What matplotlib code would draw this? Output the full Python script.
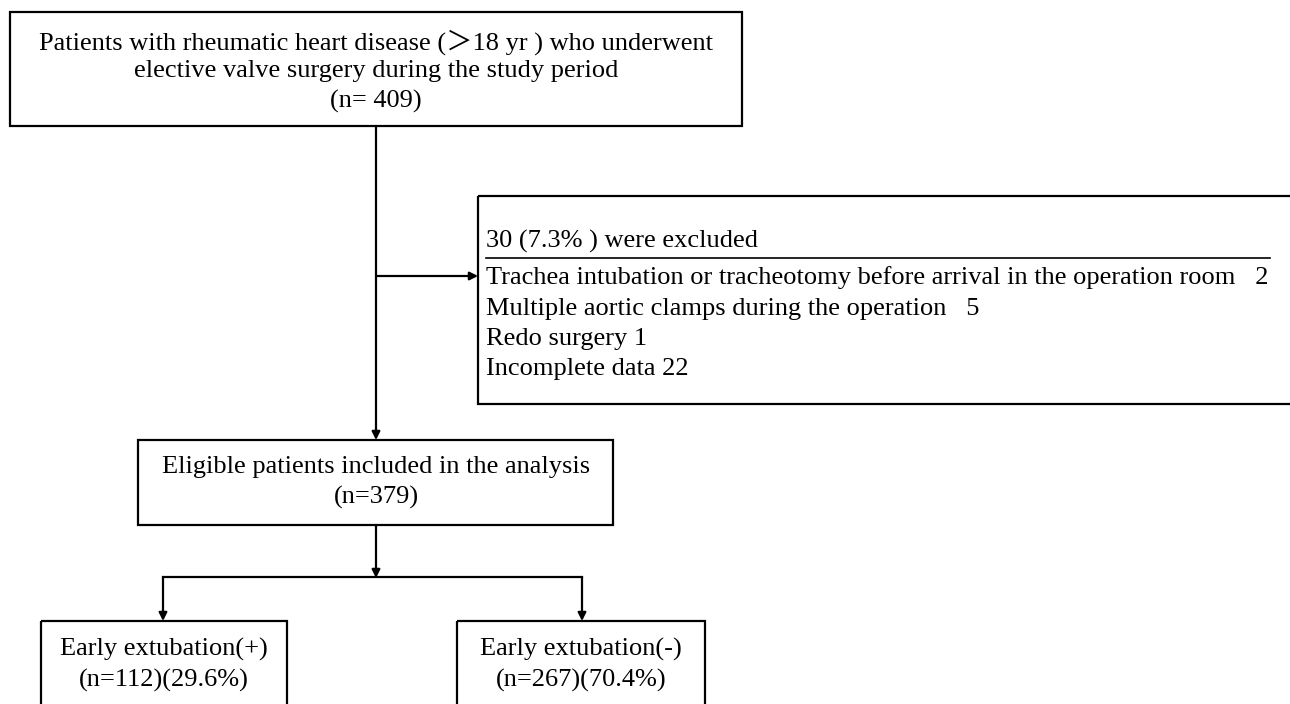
import matplotlib
matplotlib.use("Agg")
import matplotlib.pyplot as plt
from matplotlib.patches import Rectangle

FONT = ["Liberation Serif", "Noto Sans CJK SC"]
FS = 19

# texts of the flow chart
top_lines = ["Patients with rheumatic heart disease (\uff1e18 yr ) who underwent",
             "elective valve surgery during the study period",
             "(n= 409)"]
excl_title = "30 (7.3% ) were excluded"
excl_items = ["Trachea intubation or tracheotomy before arrival in the operation room   2",
              "Multiple aortic clamps during the operation   5",
              "Redo surgery 1",
              "Incomplete data 22"]
elig_lines = ["Eligible patients included in the analysis", "(n=379)"]
left_lines = ["Early extubation(+)", "(n=112)(29.6%)"]
right_lines = ["Early extubation(-)", "(n=267)(70.4%)"]

fig = plt.figure(figsize=(12.9, 7.04), dpi=100)
ax = fig.add_axes([0, 0, 1, 1])
ax.set_xlim(0, 1290)
ax.set_ylim(704, 0)
ax.axis("off")


def box(x0, y0, x1, y1):
    ax.add_patch(Rectangle((x0, y0), x1 - x0, y1 - y0, fill=False,
                           edgecolor="black", lw=1.6, clip_on=True))


def arrow(x0, y0, x1, y1):
    ax.annotate("", xy=(x1, y1), xytext=(x0, y0),
                arrowprops=dict(arrowstyle="-|>", color="black", lw=1.6,
                                mutation_scale=12, shrinkA=0, shrinkB=0))


def lines_center(lines, cx, ys):
    for t, y in zip(lines, ys):
        ax.text(cx, y, t, ha="center", va="center", fontsize=FS, family=FONT)


# top box
box(10, 12, 742, 126)
lines_center(top_lines, 376, [42, 71, 101])

# exclusion box
box(478, 196, 1300, 404)
ax.text(486, 241, excl_title, ha="left", va="center", fontsize=FS, family=FONT)
ax.plot([486, 1270], [258, 258], color="black", lw=1.2)
for t, y in zip(excl_items, [278, 309, 339, 369]):
    ax.text(486, y, t, ha="left", va="center", fontsize=FS, family=FONT)

# eligible box
box(138, 440, 613, 525)
lines_center(elig_lines, 376, [467, 497])

# outcome boxes
box(41, 621, 287, 720)
lines_center(left_lines, 164, [649, 680])
box(457, 621, 705, 720)
lines_center(right_lines, 581, [649, 680])

# connectors
arrow(376, 126, 376, 440)
arrow(376, 276, 478, 276)
arrow(376, 525, 376, 578)
ax.plot([163, 582], [577, 577], color="black", lw=1.6)
arrow(163, 577, 163, 621)
arrow(582, 577, 582, 621)

fig.savefig("out.png", dpi=100, facecolor="white")
